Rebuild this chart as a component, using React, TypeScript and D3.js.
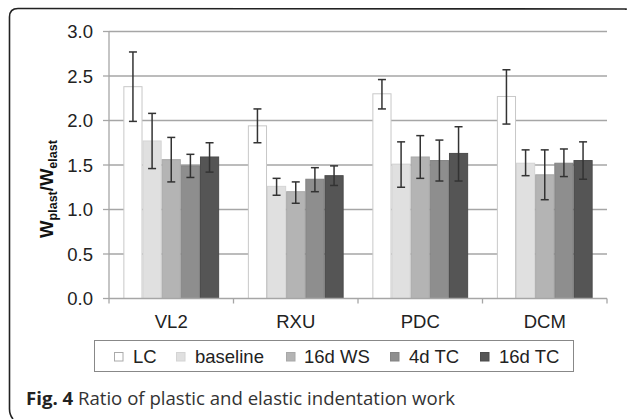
import React from "react";
import * as d3 from "d3";

const categories = ["VL2", "RXU", "PDC", "DCM"];
const seriesNames = ["LC", "baseline", "16d WS", "4d TC", "16d TC"];
const seriesColors = ["#ffffff", "#e0e0e0", "#b4b4b4", "#8e8e8e", "#555555"];
const seriesStrokes = ["#c8c8c8", "#d4d4d4", "#a8a8a8", "#848484", "#4c4c4c"];
// values[series][category]
const means = [
  [2.38, 1.94, 2.30, 2.27],
  [1.77, 1.26, 1.51, 1.52],
  [1.56, 1.20, 1.59, 1.39],
  [1.49, 1.34, 1.55, 1.52],
  [1.59, 1.38, 1.63, 1.55],
];
const errHigh = [
  [2.77, 2.13, 2.46, 2.57],
  [2.08, 1.35, 1.76, 1.67],
  [1.81, 1.31, 1.83, 1.67],
  [1.62, 1.47, 1.78, 1.68],
  [1.75, 1.49, 1.93, 1.76],
];
const errLow = [
  [1.99, 1.75, 2.13, 1.96],
  [1.46, 1.16, 1.25, 1.38],
  [1.31, 1.07, 1.35, 1.11],
  [1.36, 1.20, 1.32, 1.37],
  [1.42, 1.27, 1.32, 1.34],
];
const yTicks = [0, 0.5, 1.0, 1.5, 2.0, 2.5, 3.0];

export default function App() {
  const W = 627, H = 419;
  const left = 109, right = 607, top = 31.5, bottom = 298.5;
  const x = d3.scaleBand<string>().domain(categories).range([left, right]);
  const inner = d3
    .scaleBand<string>()
    .domain(seriesNames)
    .range([0, x.bandwidth()])
    .paddingInner(0)
    .paddingOuter(0.75);
  const y = d3.scaleLinear().domain([0, 3]).range([bottom, top]);
  const font = "Arial, 'Liberation Sans', sans-serif";
  const gridColor = "#a6a6a6";

  const legendItems = [
    { sx: 114, tx: 133 },
    { sx: 176, tx: 195 },
    { sx: 286, tx: 304 },
    { sx: 390, tx: 409 },
    { sx: 480, tx: 499 },
  ];

  return (
    <svg
      width={W}
      height={H}
      style={{ position: "absolute", left: 0, top: 0, background: "#fff" }}
    >
      {/* frame */}
      <path
        d="M626,10 L626,9 L18,8.5 Q9.5,8.5 9.5,17 L9.5,409 Q9.5,415 13,419"
        fill="none"
        stroke="#222"
        strokeWidth={1.6}
      />
      {/* gridlines */}
      {yTicks.map((t) =>
        t > 0 ? (
          <line key={"g" + t} x1={left} x2={right} y1={y(t)} y2={y(t)} stroke={gridColor} strokeWidth={1.3} />
        ) : null
      )}
      {/* y axis */}
      <line x1={left} x2={left} y1={top} y2={bottom} stroke={gridColor} strokeWidth={1.3} />
      {yTicks.map((t) => (
        <g key={"t" + t}>
          <line x1={left - 6} x2={left} y1={y(t)} y2={y(t)} stroke={gridColor} strokeWidth={1.3} />
          <text x={93} y={y(t)} dy="0.36em" textAnchor="end" fontFamily={font} fontSize={18.5} fill="#222">
            {t.toFixed(1)}
          </text>
        </g>
      ))}
      {/* bars */}
      {seriesNames.map((s, si) =>
        categories.map((c, ci) => {
          const bx = (x(c) as number) + (inner(s) as number);
          const bw = inner.bandwidth();
          const v = means[si][ci];
          const cx = bx + bw / 2;
          return (
            <g key={s + c}>
              <rect
                x={bx + 0.5}
                y={y(v)}
                width={bw - 1}
                height={bottom - y(v)}
                fill={seriesColors[si]}
                stroke={seriesStrokes[si]}
                strokeWidth={1}
              />
              <line x1={cx} x2={cx} y1={y(errHigh[si][ci])} y2={y(errLow[si][ci])} stroke="#333" strokeWidth={1.5} />
              <line x1={cx - 4} x2={cx + 4} y1={y(errHigh[si][ci])} y2={y(errHigh[si][ci])} stroke="#333" strokeWidth={1.5} />
              <line x1={cx - 4} x2={cx + 4} y1={y(errLow[si][ci])} y2={y(errLow[si][ci])} stroke="#333" strokeWidth={1.5} />
            </g>
          );
        })
      )}
      {/* x axis */}
      <line x1={left} x2={right} y1={bottom} y2={bottom} stroke={gridColor} strokeWidth={1.3} />
      {[...categories.map((c) => x(c) as number), right].map((px, i) => (
        <line key={"xt" + i} x1={px} x2={px} y1={bottom} y2={bottom + 5} stroke={gridColor} strokeWidth={1.3} />
      ))}
      {categories.map((c) => (
        <text
          key={"xl" + c}
          x={(x(c) as number) + x.bandwidth() / 2}
          y={328}
          textAnchor="middle"
          fontFamily={font}
          fontSize={18.5}
          fill="#222"
        >
          {c}
        </text>
      ))}
      {/* y label */}
      <text
        transform="translate(53,189) rotate(-90)"
        textAnchor="middle"
        fontFamily={font}
        fontSize={18.5}
        fontWeight="bold"
        fill="#111"
      >
        W<tspan fontSize={12.5} dy={4}>plast</tspan>
        <tspan dy={-4}>/W</tspan>
        <tspan fontSize={12.5} dy={4}>elast</tspan>
      </text>
      {/* legend */}
      <rect x={94.5} y={340.5} width={479} height={31} fill="#fff" stroke="#888" strokeWidth={1} />
      {seriesNames.map((s, i) => (
        <g key={"lg" + s}>
          <rect
            x={legendItems[i].sx + 0.5}
            y={352.5}
            width={8.5}
            height={8.5}
            fill={seriesColors[i]}
            stroke={i === 0 ? "#aaa" : seriesStrokes[i]}
            strokeWidth={1}
          />
          <text x={legendItems[i].tx} y={363} fontFamily={font} fontSize={18.5} fill="#222">
            {s}
          </text>
        </g>
      ))}
      {/* caption */}
      <text x={26} y={405} fontFamily="'Open Sans', 'Noto Sans', sans-serif" fontSize={18.6} fill="#333">
        <tspan fontWeight="bold" fill="#222">Fig. 4</tspan>
        <tspan> Ratio of plastic and elastic indentation work</tspan>
      </text>
    </svg>
  );
}
